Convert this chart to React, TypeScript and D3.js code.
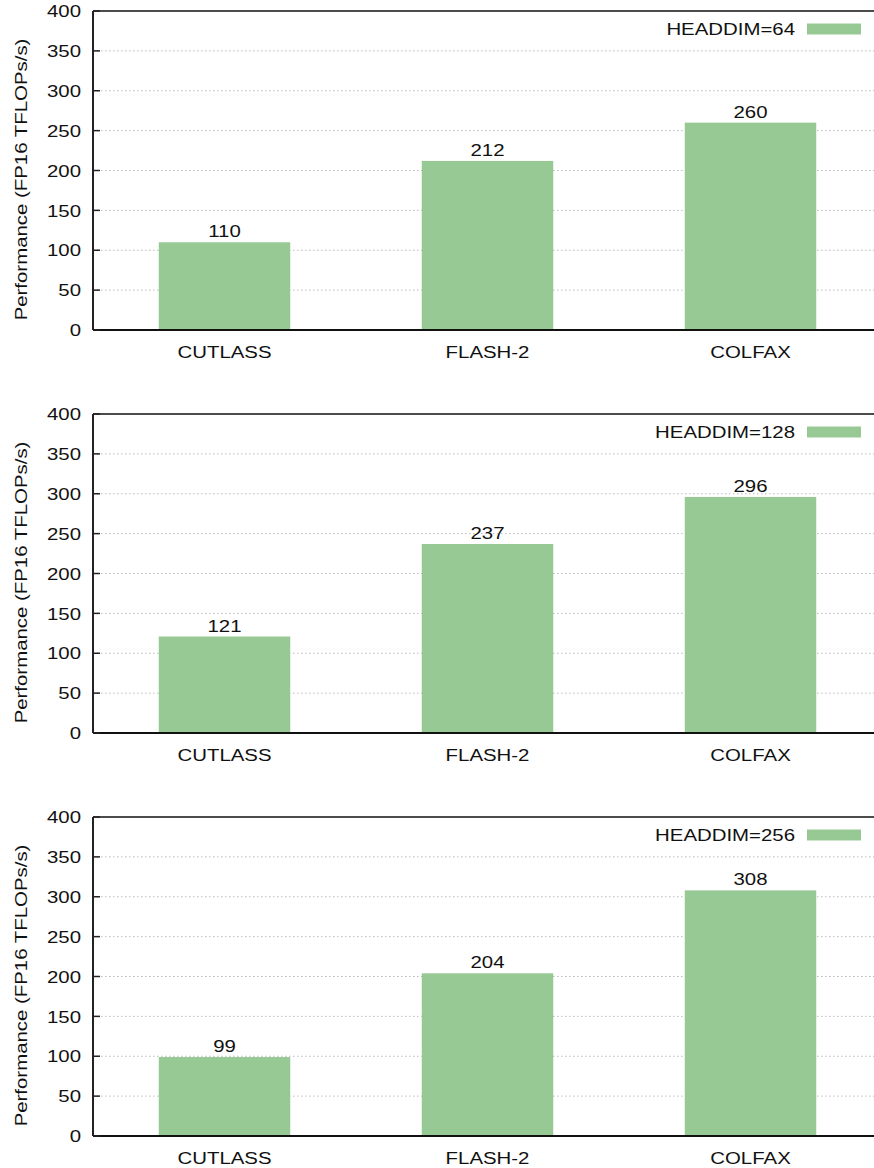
import React from "react";
import * as d3 from "d3";

const systems = ["CUTLASS", "FLASH-2", "COLFAX"];
const headdims = ["HEADDIM=64", "HEADDIM=128", "HEADDIM=256"];
const perf64 = [110, 212, 260];
const perf128 = [121, 237, 296];
const perf256 = [99, 204, 308];
const yTicks = [0, 50, 100, 150, 200, 250, 300, 350, 400];

const panels = [
  { label: headdims[0], values: perf64 },
  { label: headdims[1], values: perf128 },
  { label: headdims[2], values: perf256 },
];

const W = 874;
const H = 1168;
const left = 93;
const right = 882;
const plotH = 319;
const panelTops = [11, 414, 817];
const green = "#97c995";
const font = "'Liberation Sans', Arial, Helvetica, sans-serif";
const fs = 17;
const sx = 1.2; // the original font runs wider than Helvetica

// text helper, stretched horizontally around its anchor
const T = ({ x, y, anchor = "middle", rotate = 0, dy, children }: any) => (
  <text
    transform={`translate(${x},${y}) rotate(${rotate}) scale(${sx},1)`}
    textAnchor={anchor}
    dy={dy}
    fontSize={fs}
    fontFamily={font}
    fill="#111"
  >
    {children}
  </text>
);

const Panel = ({ top, label, values }: { top: number; label: string; values: number[] }) => {
  const x = d3.scaleBand<string>().domain(systems).range([left, right]).paddingInner(0.5).paddingOuter(0.25);
  const y = d3.scaleLinear().domain([0, 400]).range([top + plotH, top]);

  return (
    <g>
      {/* grid */}
      {yTicks.slice(1, -1).map((t) => (
        <line key={"g" + t} x1={left} x2={right} y1={y(t)} y2={y(t)} stroke="#bbb" strokeWidth={1} strokeDasharray="1.5,2.5" />
      ))}
      {/* bars */}
      {values.map((v, i) => (
        <rect key={systems[i]} x={x(systems[i])} y={y(v)} width={x.bandwidth()} height={y(0) - y(v)} fill={green} />
      ))}
      {values.map((v, i) => (
        <T key={"v" + i} x={x(systems[i])! + x.bandwidth() / 2} y={y(v) - 5}>
          {v}
        </T>
      ))}
      {/* frame */}
      <line x1={left} x2={right} y1={top} y2={top} stroke="#111" strokeWidth={1.3} />
      <line x1={left} x2={right} y1={y(0)} y2={y(0)} stroke="#111" strokeWidth={2} />
      <line x1={left} x2={left} y1={top} y2={y(0)} stroke="#222" strokeWidth={2} />
      {/* y ticks */}
      {yTicks.map((t) => (
        <g key={"t" + t}>
          <line x1={left} x2={left + 7} y1={y(t)} y2={y(t)} stroke="#222" strokeWidth={1.5} />
          <T x={81} y={y(t)} dy="0.36em" anchor="end">
            {t}
          </T>
        </g>
      ))}
      {/* x labels */}
      {systems.map((s) => (
        <T key={s} x={x(s)! + x.bandwidth() / 2} y={y(0) + 28}>
          {s}
        </T>
      ))}
      {/* y label */}
      <T x={27} y={top + plotH / 2 + 9} rotate={-90}>
        Performance (FP16 TFLOPs/s)
      </T>
      {/* legend */}
      <T x={795} y={top + 18} dy="0.36em" anchor="end">
        {label}
      </T>
      <rect x={807} y={top + 12.5} width={54} height={11} fill={green} />
    </g>
  );
};

export default function App() {
  return (
    <svg width={W} height={H} style={{ position: "absolute", left: 0, top: 0, background: "#fff" }}>
      <rect width={W} height={H} fill="#fff" />
      {panels.map((p, i) => (
        <Panel key={p.label} top={panelTops[i]} label={p.label} values={p.values} />
      ))}
    </svg>
  );
}
